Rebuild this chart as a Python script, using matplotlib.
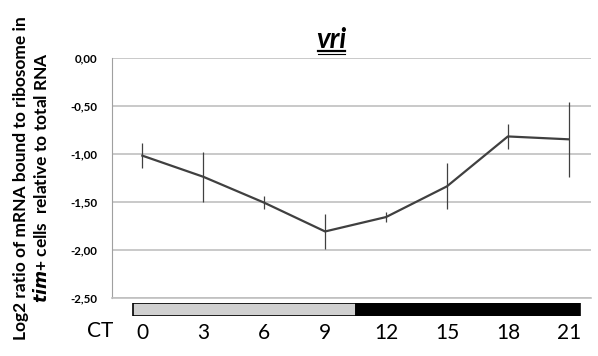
import numpy as np
import matplotlib.pyplot as plt
from matplotlib.lines import Line2D

# values
ct = [0, 3, 6, 9, 12, 15, 18, 21]
vri_mean = [-1.02, -1.24, -1.51, -1.81, -1.66, -1.34, -0.82, -0.85]
vri_err = [0.13, 0.26, 0.07, 0.18, 0.05, 0.24, 0.13, 0.39]
yticks = [0.0, -0.5, -1.0, -1.5, -2.0, -2.5]
ytick_labels = ['0,00', '-0,50', '-1,00', '-1,50', '-2,00', '-2,50']
# light / dark bar (start, width)
light_span = (-0.45, 10.95)
dark_span = (10.5, 11.05)

plt.rcParams['font.family'] = ['Lato', 'DejaVu Sans']

fig = plt.figure(figsize=(5.98, 3.56), dpi=100)
ax = fig.add_axes([0.1881, 0.1638, 0.7997, 0.674])

ax.plot(ct, vri_mean, color='#404040', lw=1.6, zorder=3)
ax.errorbar(ct, vri_mean, yerr=vri_err, fmt='none', ecolor='#404040',
            elinewidth=0.9, capsize=0, zorder=3)

ax.set_xlim(-1.47, 22.08)
ax.set_ylim(-2.5, 0.0)
ax.set_yticks(yticks)
ax.set_yticklabels(ytick_labels, fontsize=8.3, fontweight='bold')
ax.tick_params(axis='y', length=0, pad=11)
ax.set_xticks([])
ax.grid(axis='y', color='#c0c0c0', lw=1.2)
ax.set_axisbelow(True)
for s in ['top', 'right']:
    ax.spines[s].set_visible(False)
ax.spines['left'].set_color('#a0a0a0')
ax.spines['bottom'].set_color('#c0c0c0')
ax.spines['bottom'].set_linewidth(1.2)

ax.set_ylabel('Log2 ratio of mRNA bound to ribosome in\n$\\mathbfit{tim}$+ cells  relative to total RNA',
              fontsize=12.5, fontweight='bold', linespacing=1.2)
ax.yaxis.set_label_coords(-0.13, 0.5)

# light/dark bar with CT labels
bx = fig.add_axes([0.1881, 0.1124, 0.7997, 0.0365])
bx.barh(0, light_span[1], left=light_span[0], height=1, color='#d0d0d0',
        edgecolor='black', lw=1.2)
bx.barh(0, dark_span[1], left=dark_span[0], height=1, color='black',
        edgecolor='black', lw=1.2)
bx.set_xlim(-1.47, 22.08)
bx.set_ylim(-0.5, 0.5)
bx.set_xticks(ct)
bx.set_xticklabels([str(c) for c in ct], fontsize=15)
bx.tick_params(axis='x', length=0, pad=5)
bx.set_yticks([])
for s in bx.spines.values():
    s.set_visible(False)

fig.text(100 / 598, 1 - 331 / 356, 'CT', fontsize=15, ha='center', va='center')

# title with double underline
fig.text(331 / 598, 1 - 40 / 356, 'vri', fontsize=20, fontweight='bold',
         fontstyle='italic', ha='center', va='center')
fig.add_artist(Line2D([318 / 598, 345 / 598], [1 - 50.5 / 356] * 2, color='black', lw=1.6))
fig.add_artist(Line2D([318 / 598, 345 / 598], [1 - 53.5 / 356] * 2, color='black', lw=0.8))

fig.savefig('out.png', dpi=100)
